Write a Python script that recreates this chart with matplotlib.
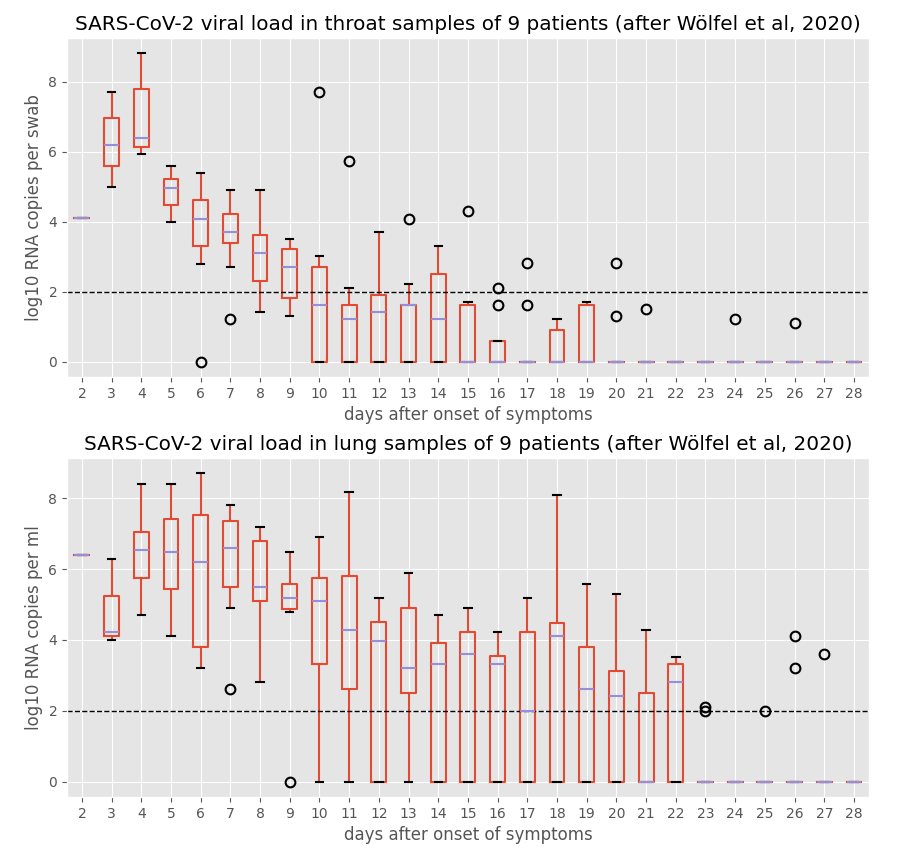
import matplotlib
matplotlib.use("Agg")
import matplotlib.pyplot as plt

plt.style.use("ggplot")

days = list(range(2, 29))

# Throat samples (log10 RNA copies per swab)
throat_whislo = [4.1, 5.0, 5.92, 4.0, 2.8, 2.7, 1.42, 1.3, 0, 0, 0, 0, 0, 0, 0, 0, 0, 0, 0, 0, 0, 0, 0, 0, 0, 0, 0]
throat_q1 = [4.1, 5.6, 6.12, 4.47, 3.3, 3.38, 2.3, 1.81, 0, 0, 0, 0, 0, 0, 0, 0, 0, 0, 0, 0, 0, 0, 0, 0, 0, 0, 0]
throat_med = [4.1, 6.2, 6.4, 4.95, 4.09, 3.7, 3.1, 2.7, 1.62, 1.22, 1.42, 1.62, 1.22, 0, 0, 0, 0, 0, 0, 0, 0, 0, 0, 0, 0, 0, 0]
throat_q3 = [4.1, 6.97, 7.8, 5.23, 4.61, 4.21, 3.61, 3.21, 2.7, 1.62, 1.9, 1.62, 2.5, 1.62, 0.59, 0, 0.9, 1.62, 0, 0, 0, 0, 0, 0, 0, 0, 0]
throat_whishi = [4.1, 7.7, 8.82, 5.6, 5.4, 4.89, 4.89, 3.5, 3.01, 2.1, 3.7, 2.21, 3.3, 1.71, 0.59, 0, 1.22, 1.7, 0, 0, 0, 0, 0, 0, 0, 0, 0]
throat_fliers = [[], [], [], [], [0.0], [1.22], [], [], [7.71], [5.72], [], [4.09], [], [4.29],
                 [2.1, 1.62], [2.81, 1.62], [], [], [2.81, 1.3], [1.5], [], [], [1.22], [], [1.1], [], []]

# Lung samples (log10 RNA copies per ml)
lung_whislo = [6.4, 4.01, 4.69, 4.1, 3.2, 4.91, 2.81, 4.8, 0, 0, 0, 0, 0, 0, 0, 0, 0, 0, 0, 0, 0, 0, 0, 0, 0, 0, 0]
lung_q1 = [6.4, 4.1, 5.75, 5.44, 3.79, 5.5, 5.11, 4.88, 3.31, 2.61, 0, 2.5, 0, 0, 0, 0, 0, 0, 0, 0, 0, 0, 0, 0, 0, 0, 0]
lung_med = [6.4, 4.21, 6.54, 6.48, 6.2, 6.59, 5.5, 5.19, 5.11, 4.29, 3.96, 3.2, 3.31, 3.59, 3.31, 1.99, 4.1, 2.61, 2.41, 0, 2.81, 0, 0, 0, 0, 0, 0]
lung_q3 = [6.4, 5.25, 7.04, 7.41, 7.52, 7.35, 6.79, 5.58, 5.75, 5.81, 4.52, 4.91, 3.9, 4.21, 3.56, 4.21, 4.49, 3.79, 3.12, 2.5, 3.31, 0, 0, 0, 0, 0, 0]
lung_whishi = [6.4, 6.29, 8.39, 8.39, 8.7, 7.8, 7.18, 6.48, 6.9, 8.19, 5.19, 5.89, 4.69, 4.91, 4.21, 5.19, 8.08, 5.58, 5.3, 4.29, 3.51, 0, 0, 0, 0, 0, 0]
lung_fliers = [[], [], [], [], [], [2.61], [], [0.0], [], [], [], [], [], [], [], [], [], [], [], [], [],
               [2.1, 2.0], [], [2.0], [4.1, 3.2], [3.59], []]

threshold = 2.0

titles = ["SARS-CoV-2 viral load in throat samples of 9 patients (after Wölfel et al, 2020)",
          "SARS-CoV-2 viral load in lung samples of 9 patients (after Wölfel et al, 2020)"]
ylabels = ["log10 RNA copies per swab", "log10 RNA copies per ml"]


def make_stats(whislo, q1, med, q3, whishi, fliers):
    out = []
    for lo, a, m, b, hi, fl, d in zip(whislo, q1, med, q3, whishi, fliers, days):
        out.append(dict(whislo=lo, q1=a, med=m, q3=b, whishi=hi, fliers=fl, label=str(d)))
    return out


datasets = [
    make_stats(throat_whislo, throat_q1, throat_med, throat_q3, throat_whishi, throat_fliers),
    make_stats(lung_whislo, lung_q1, lung_med, lung_q3, lung_whishi, lung_fliers),
]

fig = plt.figure(figsize=(9.07, 8.67), dpi=100)
ax1 = fig.add_axes([0.0739, 0.565, 0.884, 0.391])
ax2 = fig.add_axes([0.0739, 0.0807, 0.884, 0.391])

red = "#E24A33"
lav = "#988ED5"
for ax, stats, title, ylabel in zip([ax1, ax2], datasets, titles, ylabels):
    ax.bxp(stats, positions=days, widths=0.5, showfliers=True,
           boxprops=dict(color=red, linewidth=1.5),
           whiskerprops=dict(color=red, linewidth=1.5),
           capprops=dict(color="k", linewidth=1.5),
           medianprops=dict(color=lav, linewidth=1.5),
           flierprops=dict(marker="o", markerfacecolor="none", markeredgecolor="k",
                           markersize=7, markeredgewidth=1.5))
    ax.axhline(threshold, color="k", linestyle="--", linewidth=1.0)
    ax.set_xlim(1.5, 28.5)
    ax.set_xticks(days)
    ax.set_xticklabels([str(d) for d in days])
    ax.set_yticks([0, 2, 4, 6, 8])
    ax.set_title(title, fontsize=14.4)
    ax.set_xlabel("days after onset of symptoms", fontsize=12)
    ax.set_ylabel(ylabel, fontsize=12)

ax1.set_ylim(-0.44, 9.24)
ax2.set_ylim(-0.435, 9.135)

fig.savefig("out.png", dpi=100)
